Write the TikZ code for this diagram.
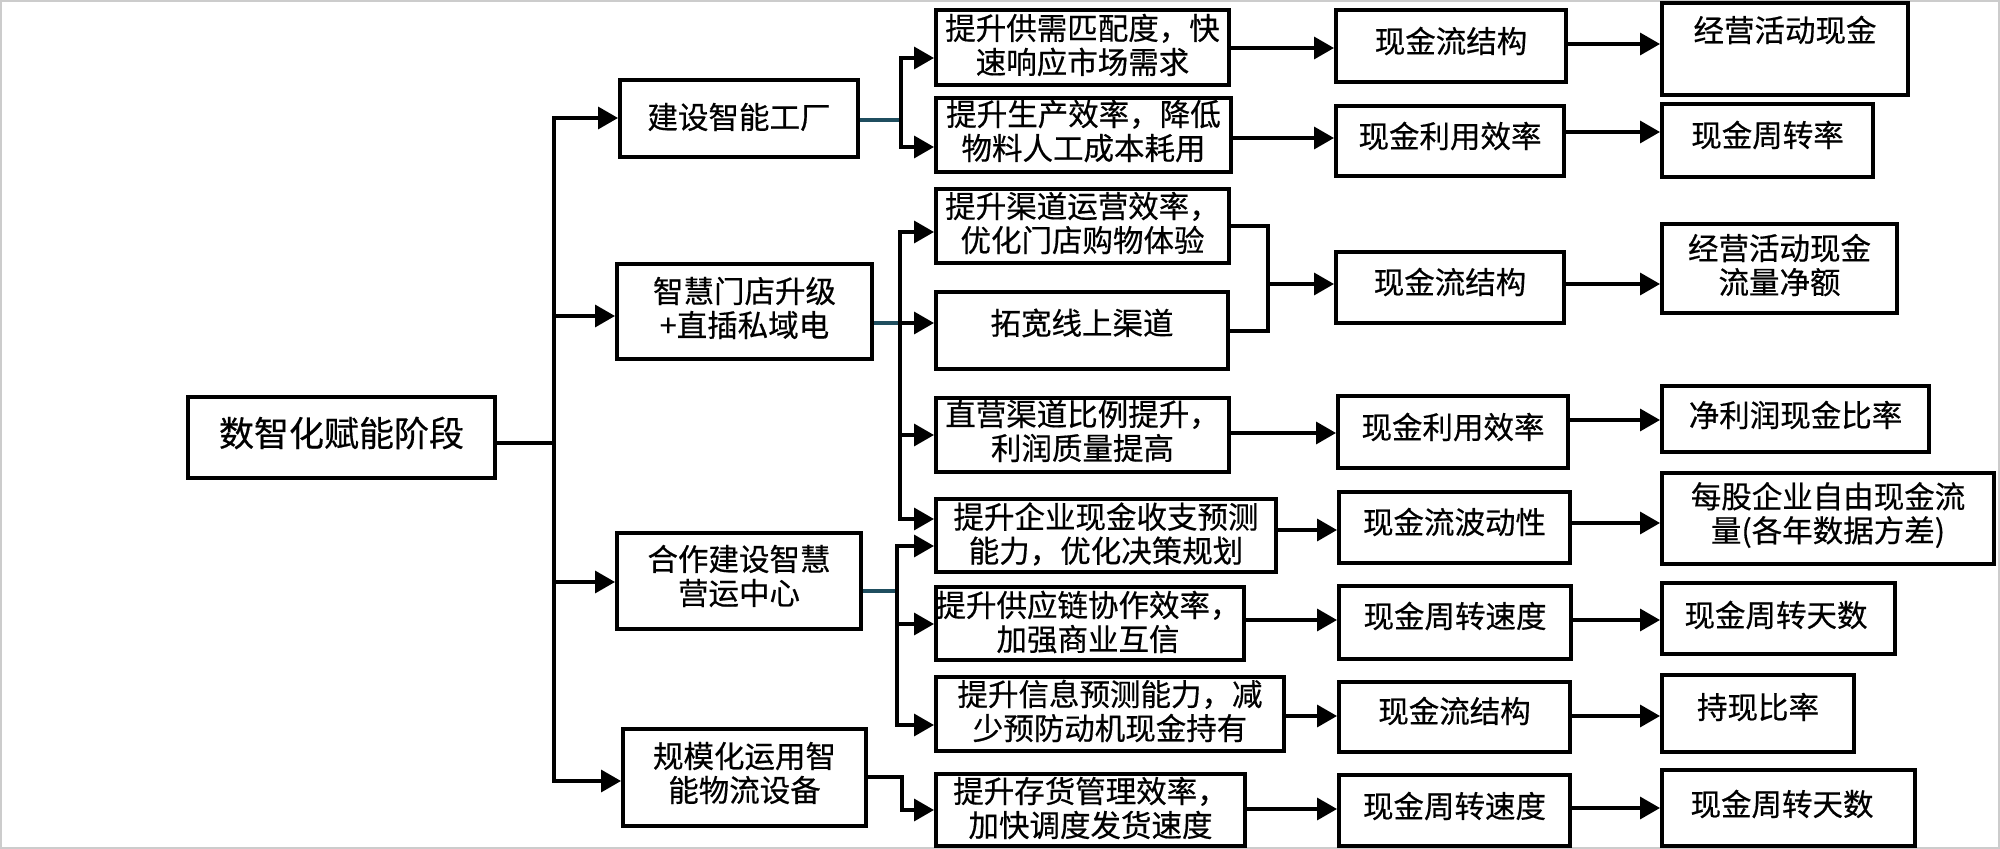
\documentclass[tikz,border=0pt]{standalone}
\usepackage{fontspec}
\setmainfont{Noto Sans CJK SC}[FakeBold=0.5]
\usetikzlibrary{arrows.meta,fit}
\definecolor{tealc}{RGB}{31,78,95}
\tikzset{
  boxst/.style={draw=black, line width=2pt, inner sep=0pt, rectangle},
  txt/.style={inner sep=0pt, align=center, font=\fontsize{15.25pt}{17pt}\selectfont},
  ln/.style={draw=black, line width=1.75pt},
  arr/.style={ln, -{Triangle[length=10pt,width=11pt]}},
  darr/.style={ln, {Triangle[length=10pt,width=11pt]}-{Triangle[length=10pt,width=11pt]}},
  tl/.style={draw=tealc, line width=1.75pt},
}
\newcommand{\mybox}[8]{%
  \node[boxst, fit={(#2,#3) (#4,#5)}] (#1) {};
  \node[txt] (#1-t) at (#6,#7) {#8};}
\begin{document}
\begin{tikzpicture}[x=0.5pt,y=-0.5pt]
\useasboundingbox (0,0) rectangle (2000,849);
\draw[black!20, line width=1pt] (1,1) rectangle (1999,848);

% root
\mybox{root}{188}{397}{495}{478}{341.5}{433}{\fontsize{17.5pt}{20pt}\selectfont 数智化赋能阶段}
% level 1
\mybox{jz}{620}{80}{858}{157}{739}{117}{建设智能工厂}
\mybox{smzd}{617}{264}{872}{359}{744.5}{308}{智慧门店升级\\+直插私域电}
\mybox{hz}{617}{533}{861}{629}{739}{576}{合作建设智慧\\营运中心}
\mybox{gm}{623}{729}{866}{826}{744.5}{773}{规模化运用智\\能物流设备}
% level 2
\mybox{A1}{936}{10}{1229}{85}{1082.5}{45}{提升供需匹配度，快\\速响应市场需求}
\mybox{A2}{936}{98}{1231}{172}{1083.5}{131}{提升生产效率，降低\\物料人工成本耗用}
\mybox{B1}{936}{189}{1229}{263}{1082.5}{223}{提升渠道运营效率，\\优化门店购物体验}
\mybox{B2}{936}{292}{1228}{369}{1082}{323}{拓宽线上渠道}
\mybox{B3}{936}{398}{1229}{472}{1082.5}{431}{直营渠道比例提升，\\利润质量提高}
\mybox{C1}{936}{499}{1276}{572}{1106}{534}{提升企业现金收支预测\\能力，优化决策规划}
\mybox{C2}{936}{587}{1244}{660}{1088}{622}{提升供应链协作效率，\\加强商业互信}
\mybox{C3}{936}{677}{1284}{751}{1110}{711}{提升信息预测能力，减\\少预防动机现金持有}
\mybox{D1}{936}{774}{1245}{846}{1090.5}{808}{提升存货管理效率，\\加快调度发货速度}
% level 3
\mybox{L3a}{1336}{10}{1566}{82}{1451}{41}{现金流结构}
\mybox{L3b}{1336}{106}{1564}{176}{1450}{136}{现金利用效率}
\mybox{L3c}{1336}{252}{1564}{323}{1450}{282}{现金流结构}
\mybox{L3d}{1338}{396}{1568}{468}{1453}{427}{现金利用效率}
\mybox{L3e}{1339}{492}{1570}{563}{1454.5}{522}{现金流波动性}
\mybox{L3f}{1339}{586}{1571}{659}{1455}{616}{现金周转速度}
\mybox{L3g}{1339}{682}{1570}{752}{1454.5}{711}{现金流结构}
\mybox{L3h}{1339}{775}{1570}{846}{1454.5}{806}{现金周转速度}
% level 4
\mybox{L4a}{1662}{3}{1908}{95}{1785}{30}{经营活动现金}
\mybox{L4b}{1662}{104}{1873}{177}{1767.5}{135}{现金周转率}
\mybox{L4c}{1662}{224}{1897}{313}{1779.5}{265}{经营活动现金\\流量净额}
\mybox{L4d}{1662}{386}{1929}{452}{1795.5}{415}{净利润现金比率}
\mybox{L4e}{1662}{473}{1994}{564}{1828}{515}{每股企业自由现金流\\量(各年数据方差)}
\mybox{L4f}{1662}{583}{1895}{654}{1776}{615}{现金周转天数}
\mybox{L4g}{1662}{675}{1854}{752}{1758}{707}{持现比率}
\mybox{L4h}{1662}{770}{1915}{846}{1782}{804}{现金周转天数}

% main trunk
\coordinate (rj) at (554,443);
\coordinate (m1) at (554,118);
\coordinate (m2) at (554,316);
\coordinate (m3) at (554,582);
\coordinate (m4) at (554,781);
\draw[ln] (root.east |- rj) -- (rj);
\draw[darr] (m1 -| jz.west) -- (m1) -- (m4) -- (m4 -| gm.west);
\draw[arr] (m2) -- (m2 -| smzd.west);
\draw[arr] (m3) -- (m3 -| hz.west);

% group A
\coordinate (a0) at (901,120);
\coordinate (a1) at (901,58);
\coordinate (a2) at (901,147);
\draw[tl] (jz.east |- a0) -- (a0);
\draw[darr] (a1 -| A1.west) -- (a1) -- (a2) -- (a2 -| A2.west);

% group B
\coordinate (b0) at (900,323);
\coordinate (b1) at (900,232);
\coordinate (b3) at (900,435);
\coordinate (b4) at (900,519);
\draw[tl] (smzd.east |- b0) -- (b0);
\draw[darr] (b1 -| B1.west) -- (b1) -- (b4) -- (b4 -| C1.west);
\draw[arr] (b0) -- (b0 -| B2.west);
\draw[arr] (b3) -- (b3 -| B3.west);

% group C
\coordinate (c0) at (897,591);
\coordinate (c1) at (897,546);
\coordinate (c2) at (897,624);
\coordinate (c3) at (897,725);
\draw[tl] (hz.east |- c0) -- (c0);
\draw[darr] (c1 -| C1.west) -- (c1) -- (c3) -- (c3 -| C3.west);
\draw[arr] (c2) -- (c2 -| C2.west);

% group D
\coordinate (d0) at (902,777);
\coordinate (d1) at (902,810);
\draw[arr] (gm.east |- d0) -- (d0) -- (d1) -- (d1 -| D1.west);

% B merge
\coordinate (bm1) at (1268,226);
\coordinate (bm2) at (1268,331);
\coordinate (bm) at (1268,284);
\draw[ln] (B1.east |- bm1) -- (bm1) -- (bm2) -- (B2.east |- bm2);
\draw[arr] (bm) -- (bm -| L3c.west);

% level 2 -> 3
\draw[arr] (A1.east |- 0,48) -- (L3a.west |- 0,48);
\draw[arr] (A2.east |- 0,138) -- (L3b.west |- 0,138);
\draw[arr] (B3.east |- 0,433) -- (L3d.west |- 0,433);
\draw[arr] (C1.east |- 0,530) -- (L3e.west |- 0,530);
\draw[arr] (C2.east |- 0,620) -- (L3f.west |- 0,620);
\draw[arr] (C3.east |- 0,716) -- (L3g.west |- 0,716);
\draw[arr] (D1.east |- 0,809) -- (L3h.west |- 0,809);

% level 3 -> 4
\draw[arr] (L3a.east |- 0,44) -- (L4a.west |- 0,44);
\draw[arr] (L3b.east |- 0,132) -- (L4b.west |- 0,132);
\draw[arr] (L3c.east |- 0,284) -- (L4c.west |- 0,284);
\draw[arr] (L3d.east |- 0,420) -- (L4d.west |- 0,420);
\draw[arr] (L3e.east |- 0,523) -- (L4e.west |- 0,523);
\draw[arr] (L3f.east |- 0,620) -- (L4f.west |- 0,620);
\draw[arr] (L3g.east |- 0,716) -- (L4g.west |- 0,716);
\draw[arr] (L3h.east |- 0,808) -- (L4h.west |- 0,808);
\end{tikzpicture}
\end{document}
